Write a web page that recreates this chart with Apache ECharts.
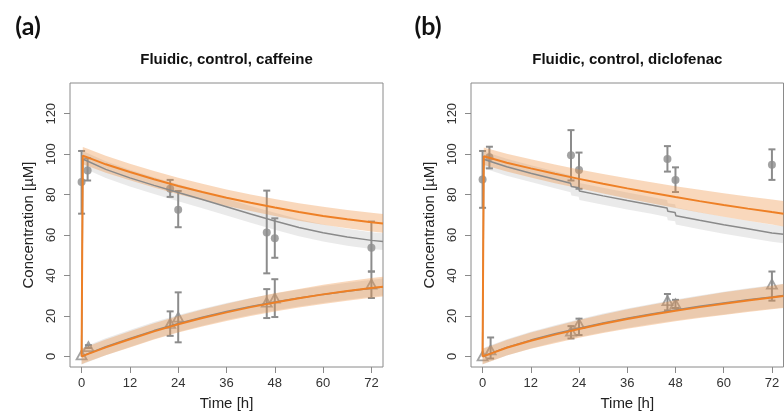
<!DOCTYPE html>
<html lang="en">
<head>
<meta charset="UTF-8">
<title>Fluidic, control</title>
<script src="https://cdn.jsdelivr.net/npm/echarts@6/dist/echarts.min.js"></script>
<style>
  html, body { margin: 0; padding: 0; background: #fff; }
  #main { width: 784px; height: 416px; }
</style>
</head>
<body>
<div id="main"></div>
<script>
// tick labels
var xTicks = [0, 12, 24, 36, 48, 60, 72];
var yTicks = [0, 20, 40, 60, 80, 100, 120];

// model time grids [h]
var tLine = [0, 0.3, 1, 6, 12, 18, 24, 30, 36, 42, 48, 54, 60, 66, 72, 74.88];
var tBand = [0.3, 1, 6, 12, 18, 24, 30, 36, 42, 48, 54, 60, 66, 72, 74.88];
var tMet = [0, 1, 6, 12, 18, 24, 30, 36, 42, 48, 54, 60, 66, 72, 74.88];

// (a) caffeine - model
var caffParentOrange = [0, 99.3, 98.8, 95.0, 91.2, 87.6, 84.3, 81.3, 78.5, 76.0, 73.6, 71.4, 69.5, 67.9, 66.4, 65.8];
var caffParentOrangeHi = [103.6, 103.1, 99.2, 95.3, 91.7, 88.4, 85.4, 82.6, 80.1, 77.8, 75.8, 74.0, 72.4, 71.0, 70.4];
var caffParentOrangeLo = [95.0, 94.5, 90.8, 87.1, 83.5, 80.2, 77.2, 74.4, 71.9, 69.5, 67.1, 65.1, 63.4, 61.8, 61.2];
var caffParentGrey = [0, 97.5, 97.0, 92.5, 88.3, 84.6, 81.1, 77.6, 74.0, 70.4, 67.0, 63.8, 61.2, 59.1, 57.4, 56.9];
var caffParentGreyHi = [101.5, 101.0, 96.5, 92.3, 88.6, 85.1, 81.6, 78.0, 74.4, 71.0, 67.8, 65.2, 63.1, 61.4, 60.9];
var caffParentGreyLo = [93.2, 92.7, 88.2, 84.0, 80.3, 76.8, 73.3, 69.7, 66.1, 62.7, 59.5, 56.9, 54.8, 53.1, 52.6];
var caffMetOrange = [0, 0.8, 4.5, 8.5, 12.4, 15.9, 19.0, 21.8, 24.4, 26.7, 28.8, 30.7, 32.4, 33.9, 34.5];
var caffMetOrangeHi = [3.8, 4.6, 8.4, 12.5, 16.4, 20.0, 23.2, 26.1, 28.8, 31.2, 33.4, 35.4, 37.2, 38.8, 39.4];
var caffMetOrangeLo = [-3.8, -3.0, 0.6, 4.5, 8.4, 11.8, 14.8, 17.5, 20.0, 22.2, 24.2, 26.0, 27.6, 29.0, 29.6];
var caffMetGrey = [0, 0.9, 4.8, 8.9, 12.8, 16.3, 19.4, 22.2, 24.7, 26.9, 28.9, 30.7, 32.3, 33.7, 34.3];
var caffMetGreyHi = [4.0, 5.0, 9.0, 13.1, 17.0, 20.5, 23.6, 26.4, 28.9, 31.1, 33.1, 34.9, 36.5, 37.9, 38.5];
var caffMetGreyLo = [-4.0, -3.2, 0.6, 4.7, 8.6, 12.1, 15.2, 18.0, 20.5, 22.7, 24.7, 26.5, 28.1, 29.5, 30.1];

// (a) caffeine - measurements (mean, sd range)
var caffObsT = [0, 1.5, 22, 24, 46, 48, 72];
var caffParentObs = [86.2, 92, 82.9, 72.5, 61.3, 58.4, 53.7];
var caffParentLo = [70.6, 87, 78.9, 63.9, 41.1, 48.8, 42];
var caffParentHi = [101.6, 98, 87.3, 81.8, 82, 68.3, 66.7];
var caffMetT = [0, 1.7, 22, 24, 46, 48, 72];
var caffMetObs = [0.8, 4.9, 16.3, 19.5, 26.8, 28.8, 35.8];
var caffMetLo = [0.8, 4.2, 10.2, 7, 19, 19.5, 28.9];
var caffMetHi = [0.8, 5.6, 22.3, 31.7, 33.3, 38.2, 42];

// (b) diclofenac - model
var dicParentOrange = [0, 99.0, 98.6, 95.8, 93.0, 90.3, 87.8, 85.4, 83.1, 80.9, 78.8, 76.8, 74.9, 73.1, 71.4, 70.6];
var dicParentOrangeHi = [103.3, 102.9, 100.2, 97.5, 94.9, 92.4, 90.2, 88.1, 86.1, 84.2, 82.4, 80.7, 79.1, 77.6, 76.9];
var dicParentOrangeLo = [94.7, 94.3, 91.4, 88.5, 85.7, 83.2, 80.6, 78.1, 75.7, 73.4, 71.2, 69.1, 67.1, 65.2, 64.3];
var tGreyB = [0, 0.3, 1, 6, 12, 18, 21.9, 22.1, 23.9, 24.1, 30, 36, 42, 45.9, 46.1, 47.9, 48.1, 54, 60, 66, 72, 74.88];
var dicParentGrey = [0, 97.5, 97, 93.8, 90.6, 87.6, 85.6, 84, 83.4, 81.8, 79.4, 77.1, 74.9, 73.4, 71.8, 71.2, 69.6, 67.3, 65.1, 63.1, 61.1, 60.4];
var dicParentGreyHi = [101.5, 101, 97.8, 94.6, 91.6, 89.6, 88, 87.4, 85.8, 83.4, 81.1, 78.9, 77.4, 75.8, 75.2, 73.6, 71.3, 69.1, 67.1, 65.1, 64.4];
var dicParentGreyLo = [93.1, 92.6, 89.4, 86.2, 83.2, 81.2, 79.6, 79, 77.4, 75, 72.7, 70.5, 69, 67.4, 66.8, 65.2, 62.9, 60.7, 58.7, 56.7, 56];
var dicMetOrange = [0, 0.7, 4.3, 7.8, 10.8, 13.6, 16.2, 18.5, 20.6, 22.6, 24.4, 26.1, 27.7, 29.2, 29.9];
var dicMetOrangeHi = [3.8, 4.5, 8.1, 11.8, 15.0, 18.0, 20.8, 23.3, 25.6, 27.8, 29.8, 31.7, 33.4, 35.0, 35.8];
var dicMetOrangeLo = [-3.8, -3.1, 0.5, 3.8, 6.6, 9.2, 11.6, 13.7, 15.6, 17.4, 19.0, 20.5, 22.0, 23.4, 24.0];
var dicMetGrey = [0, 0.8, 4.5, 8.1, 11.2, 14.0, 16.6, 18.9, 21.0, 23.0, 24.8, 26.4, 28.0, 29.4, 30.1];
var dicMetGreyHi = [4.0, 4.8, 8.5, 12.2, 15.4, 18.4, 21.2, 23.7, 26.0, 28.2, 30.2, 32.0, 33.7, 35.2, 36.0];
var dicMetGreyLo = [-4.0, -3.2, 0.5, 4.0, 7.0, 9.6, 12.0, 14.1, 16.0, 17.8, 19.4, 20.8, 22.3, 23.6, 24.2];

// (b) diclofenac - measurements
var dicObsT = [0, 1.7, 22, 24, 46, 48, 72];
var dicParentObs = [87.5, 98.5, 99.5, 92.2, 97.6, 87.3, 94.8];
var dicParentLo = [73.5, 93, 87, 82.9, 91.4, 81.3, 87.3];
var dicParentHi = [101.6, 103.7, 111.9, 100.8, 104, 93.5, 102.4];
var dicMetT = [0, 2, 22, 24, 46, 48, 72];
var dicMetObs = [0.3, 3.2, 12.5, 16.2, 27.6, 26, 35.8];
var dicMetLo = [0.3, -1, 8.9, 10.6, 22.8, 24, 27.6];
var dicMetHi = [0.3, 9.4, 15, 18.7, 30.9, 28, 42];

var ORANGE = '#EE8026';
var GREY = '#8a8a8a';
var PT = '#8c8c8c';
var ORANGE_BAND = 'rgba(238,148,70,0.36)';
var GREY_BAND = 'rgba(150,150,150,0.2)';
var FONT = '"Liberation Sans", Arial, sans-serif';

function pairs(t, v) {
    return t.map(function (x, i) { return [x, v[i]]; });
}

function band(gi, t, lo, hi, fill) {
    return {
        type: 'custom', xAxisIndex: gi, yAxisIndex: gi, silent: true, z: 3,
        data: t.map(function (x, i) { return [x, lo[i], hi[i]]; }),
        encode: { x: 0, y: [1, 2] },
        renderItem: function (params, api) {
            if (params.dataIndex !== 0) return null;
            var pts = [];
            for (var i = 0; i < t.length; i++) pts.push(api.coord([t[i], hi[i]]));
            for (var j = t.length - 1; j >= 0; j--) pts.push(api.coord([t[j], lo[j]]));
            return { type: 'polygon', shape: { points: pts }, style: { fill: fill } };
        }
    };
}

function errorBars(gi, t, lo, hi) {
    return {
        type: 'custom', xAxisIndex: gi, yAxisIndex: gi, silent: true, z: 2,
        data: t.map(function (x, i) { return [x, lo[i], hi[i]]; }),
        encode: { x: 0, y: [1, 2] },
        renderItem: function (params, api) {
            var x = api.value(0);
            var a = api.coord([x, api.value(1)]);
            var b = api.coord([x, api.value(2)]);
            if (Math.abs(a[1] - b[1]) < 1) return null;
            var w = 3.5, st = { stroke: PT, lineWidth: 2 };
            return {
                type: 'group', children: [
                    { type: 'line', shape: { x1: a[0], y1: a[1], x2: b[0], y2: b[1] }, style: st },
                    { type: 'line', shape: { x1: a[0] - w, y1: a[1], x2: a[0] + w, y2: a[1] }, style: st },
                    { type: 'line', shape: { x1: b[0] - w, y1: b[1], x2: b[0] + w, y2: b[1] }, style: st }
                ]
            };
        }
    };
}

function line(gi, t, v, color, width) {
    return {
        type: 'line', xAxisIndex: gi, yAxisIndex: gi, silent: true, z: 4,
        data: pairs(t, v), symbol: 'none', smooth: false,
        lineStyle: { color: color, width: width }
    };
}

function circles(gi, t, v) {
    return {
        type: 'scatter', xAxisIndex: gi, yAxisIndex: gi, silent: true, z: 2,
        data: pairs(t, v), symbol: 'circle', symbolSize: 8,
        itemStyle: { color: PT }
    };
}

function triangles(gi, t, v) {
    return {
        type: 'scatter', xAxisIndex: gi, yAxisIndex: gi, silent: true, z: 2,
        data: pairs(t, v), symbol: 'triangle', symbolSize: [10, 9],
        itemStyle: { color: 'rgba(0,0,0,0)', borderColor: PT, borderWidth: 1.8 }
    };
}

function xAxis(gi) {
    return {
        type: 'value', gridIndex: gi, min: -2.88, max: 74.88,
        axisLine: { show: false, onZero: false },
        axisTick: { show: true, length: 6, customValues: xTicks, lineStyle: { color: GREY } },
        axisLabel: { customValues: xTicks, margin: 10, fontSize: 13, color: '#333', fontFamily: FONT },
        splitLine: { show: false },
        name: 'Time [h]', nameLocation: 'middle', nameGap: 29,
        nameTextStyle: { fontSize: 15, color: '#222', fontFamily: FONT }
    };
}

function yAxis(gi) {
    return {
        type: 'value', gridIndex: gi, min: -5.2, max: 135.2,
        axisLine: { show: false, onZero: false },
        axisTick: { show: true, length: 6, customValues: yTicks, lineStyle: { color: GREY } },
        axisLabel: { customValues: yTicks, rotate: 90, margin: 12, fontSize: 13, color: '#333', fontFamily: FONT },
        splitLine: { show: false },
        name: 'Concentration [µM]', nameLocation: 'middle', nameGap: 34,
        nameTextStyle: { fontSize: 15, color: '#222', fontFamily: FONT }
    };
}

var myChart = echarts.init(document.getElementById('main'));

var option = {
    animation: false,
    backgroundColor: '#fff',
    grid: [
        { left: 70, top: 83, width: 313, height: 287, show: true, borderColor: GREY, borderWidth: 1 },
        { left: 471, top: 83, width: 312.5, height: 287, show: true, borderColor: GREY, borderWidth: 1 }
    ],
    xAxis: [xAxis(0), xAxis(1)],
    yAxis: [yAxis(0), yAxis(1)],
    graphic: [
        { type: 'text', x: 28, y: 27, style: { text: '(a)', font: 'bold 25px Lato', fill: '#111', align: 'center', verticalAlign: 'middle' } },
        { type: 'text', x: 428, y: 27, style: { text: '(b)', font: 'bold 25px Lato', fill: '#111', align: 'center', verticalAlign: 'middle' } },
        { type: 'text', x: 226.5, y: 60, style: { text: 'Fluidic, control, caffeine', font: 'bold 15px ' + FONT, fill: '#111', align: 'center', verticalAlign: 'middle' } },
        { type: 'text', x: 627.3, y: 60, style: { text: 'Fluidic, control, diclofenac', font: 'bold 15px ' + FONT, fill: '#111', align: 'center', verticalAlign: 'middle' } }
    ],
    series: [
        // (a) caffeine
        errorBars(0, caffObsT, caffParentLo, caffParentHi),
        errorBars(0, caffMetT, caffMetLo, caffMetHi),
        circles(0, caffObsT, caffParentObs),
        triangles(0, caffMetT, caffMetObs),
        band(0, tBand, caffParentGreyLo, caffParentGreyHi, GREY_BAND),
        band(0, tMet, caffMetGreyLo, caffMetGreyHi, GREY_BAND),
        band(0, tBand, caffParentOrangeLo, caffParentOrangeHi, ORANGE_BAND),
        band(0, tMet, caffMetOrangeLo, caffMetOrangeHi, ORANGE_BAND),
        line(0, tLine, caffParentGrey, GREY, 1.5),
        line(0, tMet, caffMetGrey, GREY, 1.5),
        line(0, tLine, caffParentOrange, ORANGE, 2),
        line(0, tMet, caffMetOrange, ORANGE, 2),
        // (b) diclofenac
        errorBars(1, dicObsT, dicParentLo, dicParentHi),
        errorBars(1, dicMetT, dicMetLo, dicMetHi),
        circles(1, dicObsT, dicParentObs),
        triangles(1, dicMetT, dicMetObs),
        band(1, tGreyB.slice(1), dicParentGreyLo, dicParentGreyHi, GREY_BAND),
        band(1, tMet, dicMetGreyLo, dicMetGreyHi, GREY_BAND),
        band(1, tBand, dicParentOrangeLo, dicParentOrangeHi, ORANGE_BAND),
        band(1, tMet, dicMetOrangeLo, dicMetOrangeHi, ORANGE_BAND),
        line(1, tGreyB, dicParentGrey, GREY, 1.5),
        line(1, tMet, dicMetGrey, GREY, 1.5),
        line(1, tLine, dicParentOrange, ORANGE, 2),
        line(1, tMet, dicMetOrange, ORANGE, 2)
    ]
};

myChart.setOption(option);
</script>
</body>
</html>
